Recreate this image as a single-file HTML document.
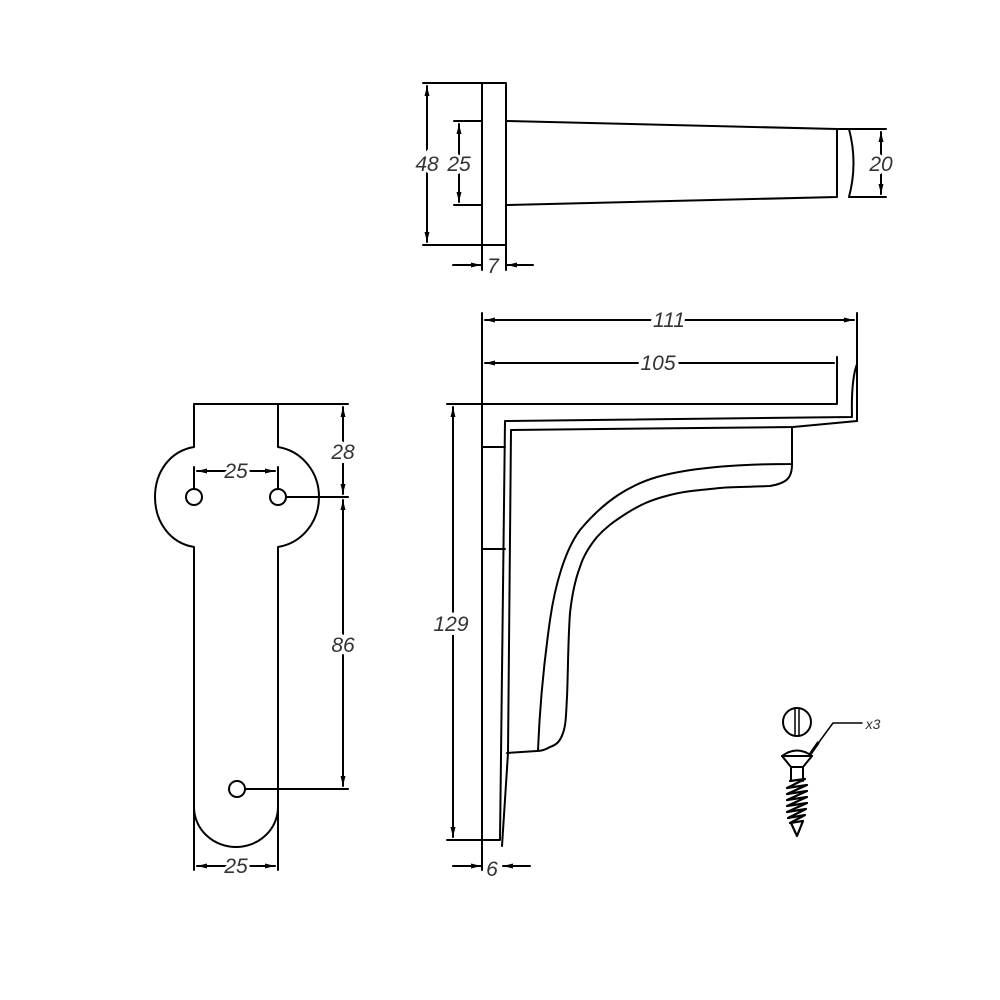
<!DOCTYPE html>
<html><head><meta charset="utf-8"><style>html,body{margin:0;padding:0;background:#fff}svg{display:block}</style></head>
<body>
<svg width="1000" height="1000" viewBox="0 0 1000 1000" xmlns="http://www.w3.org/2000/svg">
<defs>
<marker id="a" viewBox="0 0 10 6" refX="10" refY="3" markerWidth="10" markerHeight="6" orient="auto-start-reverse" markerUnits="userSpaceOnUse"><path d="M0,0.5 L10,3 L0,5.5z" fill="#000"/></marker>
</defs>
<g fill="none" stroke="#000" stroke-width="2" stroke-linecap="round" stroke-linejoin="round">
<!-- TOP VIEW -->
<rect x="482" y="83" width="24" height="162"/>
<path d="M506,121 L837,129 L837,197 L506,205"/>
<path d="M849,129 Q858,163 849,197"/>
<path d="M423,83 H482 M423,245 H482 M454,121 H482 M454,205 H482 M837,129 H886 M849,197 H886"/>
<line x1="427" y1="86" x2="427" y2="242" marker-start="url(#a)" marker-end="url(#a)"/>
<line x1="459" y1="124" x2="459" y2="202" marker-start="url(#a)" marker-end="url(#a)"/>
<line x1="881" y1="132" x2="881" y2="194" marker-start="url(#a)" marker-end="url(#a)"/>
<path d="M482,245 V270 M506,245 V270"/>
<line x1="453" y1="265" x2="481" y2="265" marker-end="url(#a)"/>
<line x1="533" y1="265" x2="507" y2="265" marker-end="url(#a)"/>

<!-- LEFT VIEW -->
<path d="M194,870 V547 C170,543 155,522 155,497 C155,472 170,451 194,447 V404 H278 V447 C302,451 319,472 319,497 C319,522 302,543 278,547 V807"/>
<path d="M194,807 A42,40 0 0 0 278,807"/>
<circle cx="194" cy="497" r="8"/><circle cx="278" cy="497" r="8"/><circle cx="237" cy="789" r="8"/>
<path d="M278,404 H348 M286,497 H348 M245,789 H348 M194,467 V489 M278,467 V489 M278,807 V870"/>
<line x1="197" y1="471" x2="275" y2="471" marker-start="url(#a)" marker-end="url(#a)"/>
<line x1="343" y1="407" x2="343" y2="494" marker-start="url(#a)" marker-end="url(#a)"/>
<line x1="343" y1="500" x2="343" y2="786" marker-start="url(#a)" marker-end="url(#a)"/>
<line x1="197" y1="866" x2="275" y2="866" marker-start="url(#a)" marker-end="url(#a)"/>

<!-- SIDE VIEW -->
<path d="M482,313 V870 M857,313 V421"/>
<line x1="485" y1="320" x2="854" y2="320" marker-start="url(#a)" marker-end="url(#a)"/>
<line x1="485" y1="363" x2="834" y2="363" marker-start="url(#a)"/>
<path d="M837,357 V404 H482"/>
<path d="M857,364 Q851,380 852,417 L505,421 L500,840 H447 M447,404 H482"/>
<path d="M857,421 L793,427 L511,430 L508,753 L502,846"/>
<path d="M482,447 H505 M482,549 H505"/>
<path d="M792,427 V464 C760,464 700,465 657,477 C630,485 605,500 580,530 C565,550 555,585 550,620 C545,655 540,700 538,750"/>
<path d="M792,464 C792,478 787,483 770,486 C750,487 730,487 720,488 C700,490 685,491 670,495 C650,500 640,505 627,513 C613,522 605,528 597,537 C588,548 583,557 580,567 C575,580 572,595 570,613 C568,640 568,675 567,697 C566,715 566,725 563,733 C560,742 556,745 550,747 C545,750 541,751 537,751 L507,753"/>
<line x1="453" y1="407" x2="453" y2="837" marker-start="url(#a)" marker-end="url(#a)"/>
<line x1="453" y1="866" x2="481" y2="866" marker-end="url(#a)"/>
<line x1="530" y1="866" x2="503" y2="866" marker-end="url(#a)"/>

<!-- SCREW -->
<circle cx="797" cy="722" r="14"/>
<path d="M795,708 V736 M799,708 V736" stroke-width="1.5"/>
<path d="M782,756 Q797,745 812,756 Z" stroke-width="2"/>
<path d="M788,752 Q797,749 806,752" stroke-width="1.2"/>
<path d="M782,756 L791,767 V781 M812,756 L803,767 V781 M791,767 H803" stroke-width="2"/>
<path d="M790,781 L805,779 L787,788 L807,785 L787,794 L807,791 L787,800 L807,797 L787,806 L807,803 L787,812 L806,809 L788,818 L805,815 L790,823 L803,821 L797,836 L791,823" stroke-width="2.2"/>
<path d="M811,753 L833,723 H862" stroke-width="1.5"/>
<path d="M811,753 L818,743" stroke-width="3"/>
</g>
<g font-family="'Liberation Sans', sans-serif" font-size="21" fill="#333" font-style="italic" text-anchor="middle">
<text x="427" y="171" stroke="#fff" stroke-width="6" paint-order="stroke">48</text>
<text x="459" y="171" stroke="#fff" stroke-width="6" paint-order="stroke">25</text>
<text x="881" y="171" stroke="#fff" stroke-width="6" paint-order="stroke">20</text>
<text x="493" y="273">7</text>
<text x="236" y="478" stroke="#fff" stroke-width="6" paint-order="stroke">25</text>
<text x="343" y="459" stroke="#fff" stroke-width="8" paint-order="stroke">28</text>
<text x="343" y="652" stroke="#fff" stroke-width="8" paint-order="stroke">86</text>
<text x="236" y="873" stroke="#fff" stroke-width="6" paint-order="stroke">25</text>
<text x="669" y="327" stroke="#fff" stroke-width="8" paint-order="stroke">111</text>
<text x="658" y="370" stroke="#fff" stroke-width="8" paint-order="stroke">105</text>
<text x="451" y="631" stroke="#fff" stroke-width="8" paint-order="stroke">129</text>
<text x="492" y="876">6</text>
<text x="873" y="729" font-size="14">x3</text>
</g>
</svg>
</body></html>
